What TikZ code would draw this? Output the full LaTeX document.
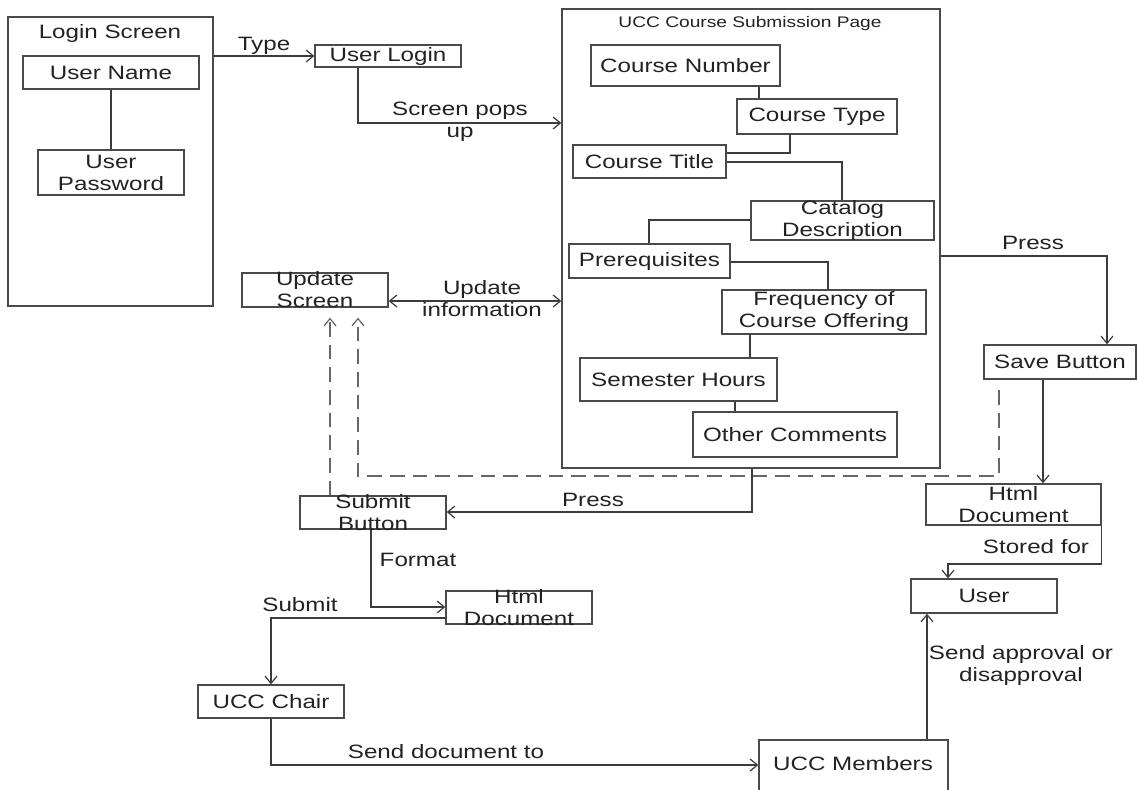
\documentclass[tikz,border=0pt]{standalone}
\usepackage{fontspec}
\setmainfont{Liberation Sans}[FakeStretch=1.25]
\usetikzlibrary{arrows.meta,fit}
\definecolor{boxc}{HTML}{4A4A4A}
\definecolor{linec}{HTML}{3C3C3C}
\definecolor{dashc}{HTML}{666666}
\definecolor{txtc}{HTML}{222222}
\newcommand\bx[6]{\node[box={(#2,#3)(#4,#5)}] (#1) {};\node[txt] (#1-t) at (#1.center) {#6};}
\begin{document}
\begin{tikzpicture}[x=0.75pt,y=-0.75pt,
  box/.style={draw=boxc,line width=1pt,inner sep=0pt,fit={#1}},
  txt/.style={font=\fontsize{14.5}{16.5}\selectfont,text=txtc,align=center,inner sep=0pt},
  small/.style={font=\fontsize{11.5}{13}\selectfont,text=txtc,inner sep=0pt},
  ln/.style={draw=linec,line width=0.9pt},
  tip/.tip={Straight Barb[length=5.5pt,width=9pt,line width=0.9pt]},
  arr/.style={ln,-tip},
  darr/.style={ln,tip-tip},
  dsh/.style={draw=dashc,line width=1.1pt,dash pattern=on 11pt off 6pt,-tip}]
\useasboundingbox (0,0) rectangle (1138,789);
\fill[white] (0,0) rectangle (1138,789);
\begin{scope}
\clip (0,0) rectangle (1138,789);
% login screen
\bx{login}{8}{17}{213}{306}{}
\node[txt] (login-title) at (110,33) {Login Screen};
\bx{un}{23}{56}{199}{89}{User Name}
\bx{up}{38}{150}{184}{195}{User\\Password}
\bx{ul}{315}{45}{461}{67}{User Login}
\bx{us}{242}{273}{388}{307}{Update\\Screen}
% UCC page
\bx{ucc}{562}{9}{940}{468}{}
\node[small] (ucc-title) at (750,24) {UCC Course Submission Page};
\bx{cn}{591}{45}{780}{86}{Course Number}
\bx{ct}{737}{99}{897}{134}{Course Type}
\bx{ctl}{573}{145}{726}{178}{Course Title}
\bx{cat}{751}{201}{934}{240}{Catalog\\Description}
\bx{pre}{569}{244}{730}{278}{Prerequisites}
\bx{fr}{722}{290}{926}{334}{Frequency of\\Course Offering}
\bx{sh}{580}{358}{777}{401}{Semester Hours}
\bx{oc}{693}{412}{897}{457}{Other Comments}
% right side
\bx{save}{984}{345}{1136}{379}{Save Button}
\bx{htmlr}{926}{484}{1101}{525}{Html\\Document}
\bx{user}{911}{579}{1057}{613}{User}
\bx{mem}{759}{740}{948}{805}{}
\node[txt] (mem-t) at (853,764) {UCC Members};
% lower left
\bx{sb}{300}{496}{446}{529}{Submit\\Button}
\bx{hl}{446}{591}{592}{624}{Html\\Document}
\bx{ch}{198}{685}{344}{718}{UCC Chair}
% internal connectors
\coordinate (i1) at (759,0);
\coordinate (i2) at (790,153);
\coordinate (i3) at (842,162);
\coordinate (i4) at (649,220);
\coordinate (i5) at (828,262);
\coordinate (i6) at (750,0);
\coordinate (i7) at (735,0);
\draw[ln] (un.south) -- (up.north);
\draw[ln] (cn.south -| i1) -- (ct.north -| i1);
\draw[ln] (ct.south -| i2) |- (ctl.east |- i2);
\draw[ln] (ctl.east |- i3) -| (cat.north -| i3);
\draw[ln] (cat.west |- i4) -| (pre.north -| i4);
\draw[ln] (pre.east |- i5) -| (fr.north -| i5);
\draw[ln] (fr.south -| i6) -- (sh.north -| i6);
\draw[ln] (sh.south -| i7) -- (oc.north -| i7);
% flows
\draw[arr] (login.east |- ul.west) -- (ul.west);
\node[txt] (l-type) at (264,46) {Type};
\coordinate (k1) at (358,123);
\draw[arr] (ul.south -| k1) |- (ucc.west |- k1);
\node[txt] (l-sp) at (460,122) {Screen pops\\up};
\coordinate (k2) at (0,301);
\draw[darr] (us.east |- k2) -- (ucc.west |- k2);
\node[txt] (l-ui) at (482,299) {Update\\information};
\coordinate (k3) at (1107,256);
\draw[arr] (ucc.east |- k3) -| (save.north -| k3);
\node[txt] (l-press1) at (1033,243) {Press};
\coordinate (k4) at (1043,0);
\draw[arr] (save.south -| k4) -- (htmlr.north -| k4);
\coordinate (k5) at (999,476);
\coordinate (k6) at (358,476);
\draw[dsh,shorten <=8pt,shorten >=7.5pt] (save.south -| k5) -- (k5) -- (k6) -- (us.south -| k6);
\coordinate (k7) at (330,0);
\draw[dsh,shorten >=7.5pt] (sb.north -| k7) -- (us.south -| k7);
\coordinate (k8) at (752,512);
\draw[arr] (ucc.south -| k8) |- (sb.east |- k8);
\node[txt] (l-press2) at (593,500) {Press};
\coordinate (k9) at (371,607);
\draw[arr] (sb.south -| k9) |- (hl.west |- k9);
\node[txt] (l-format) at (418,560) {Format};
\coordinate (k10) at (271,618);
\draw[arr] (hl.west |- k10) -| (ch.north -| k10);
\node[txt] (l-submit) at (300,605) {Submit};
\coordinate (k11) at (271,765);
\draw[arr] (ch.south -| k11) |- (mem.west |- k11);
\node[txt] (l-send) at (446,752) {Send document to};
\coordinate (k12) at (927,0);
\draw[arr] (mem.north -| k12) -- (user.south -| k12);
\node[txt] (l-appr) at (1021,665) {Send approval or\\disapproval};
\coordinate (k14) at (948,564);
\draw[arr] (htmlr.south east) |- (k14) -- (user.north -| k14);
\node[txt] (l-stored) at (1036,547) {Stored for};
\end{scope}
\end{tikzpicture}
\end{document}
